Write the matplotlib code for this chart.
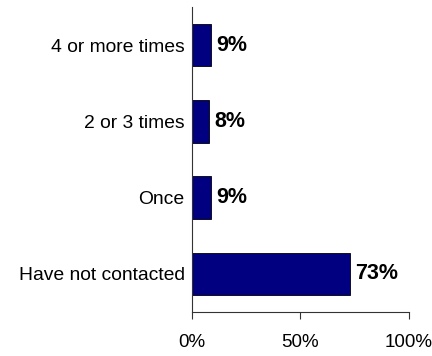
import matplotlib
matplotlib.use('Agg')
import matplotlib.pyplot as plt
from matplotlib.ticker import FuncFormatter

# contact frequency, top to bottom
categories = ['4 or more times', '2 or 3 times', 'Once', 'Have not contacted']
percents = [9, 8, 9, 73]
ticks = [0, 50, 100]

plt.rcParams['font.family'] = ['Liberation Sans Narrow', 'Liberation Sans', 'DejaVu Sans']

fig = plt.figure(figsize=(4.32, 3.56), dpi=100)
ax = fig.add_axes([0.4437, 0.1236, 0.5031, 0.8567])

ypos = list(range(len(categories)))
ax.barh(ypos, percents, height=0.56, color='#000080', edgecolor='black', linewidth=0.6)
ax.set_ylim(len(categories) - 0.5, -0.5)
ax.set_xlim(0, 100)

ax.set_yticks(ypos)
ax.set_yticklabels(categories, fontsize=13.9)
ax.tick_params(axis='y', length=0, pad=5)

ax.set_xticks(ticks)
ax.xaxis.set_major_formatter(FuncFormatter(lambda v, p: '%d%%' % v))
ax.tick_params(axis='x', length=5, width=0.8, pad=11, labelsize=13.5)

for s in ['top', 'right']:
    ax.spines[s].set_visible(False)
for s in ['left', 'bottom']:
    ax.spines[s].set_linewidth(0.8)
    ax.spines[s].set_color('#333333')
ax.tick_params(colors='#333333', labelcolor='black')

# value labels to the right of each bar
for y, v in zip(ypos, percents):
    ax.text(v + 2.3, y, '%d%%' % v, va='center', ha='left',
            fontsize=15.5, fontweight='bold', family=['Liberation Sans', 'DejaVu Sans'])

fig.savefig('out.png', dpi=100)
